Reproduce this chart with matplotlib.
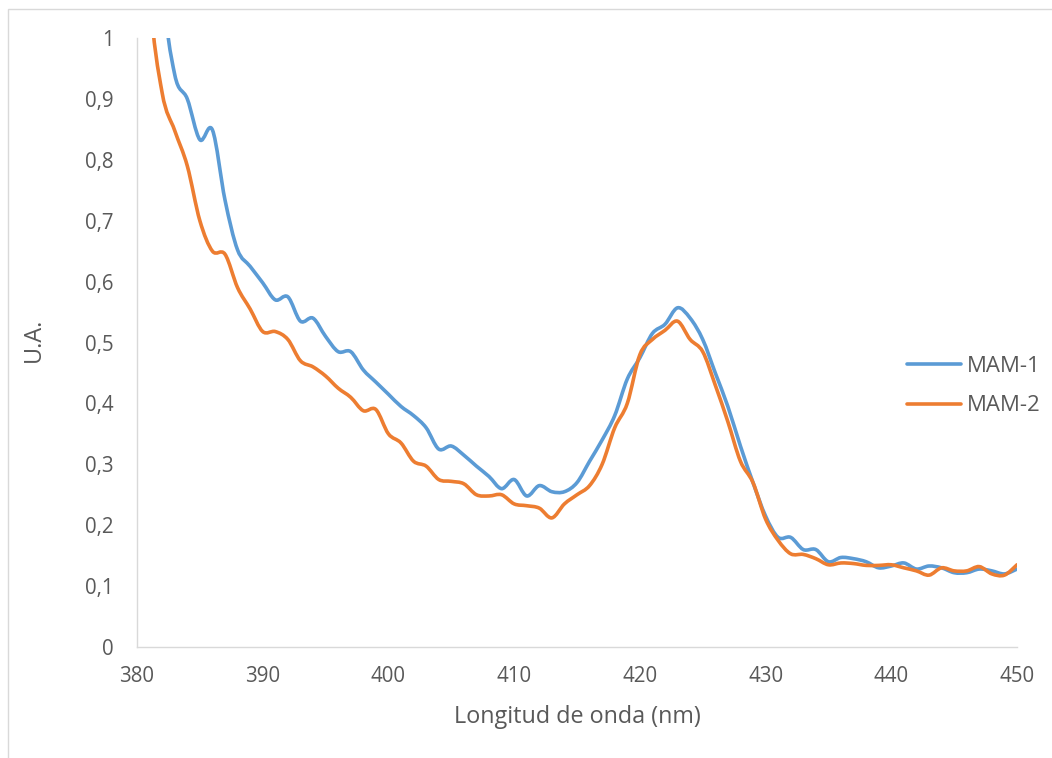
import matplotlib
matplotlib.use("Agg")
import matplotlib.pyplot as plt
from matplotlib.patches import Rectangle, PathPatch
from matplotlib.path import Path
from matplotlib.lines import Line2D
from matplotlib.ticker import FuncFormatter

wavelength = list(range(380, 451))

mam1 = [2.0, 1.5, 1.1, 0.94, 0.90, 0.833, 0.849, 0.734, 0.652, 0.625,
        0.598, 0.570, 0.575, 0.535, 0.540, 0.510, 0.485, 0.485, 0.455, 0.435,
        0.415, 0.395, 0.380, 0.360, 0.325, 0.330, 0.315, 0.297, 0.280, 0.260,
        0.275, 0.248, 0.265, 0.255, 0.255, 0.270, 0.305, 0.340, 0.380, 0.440,
        0.475, 0.515, 0.530, 0.557, 0.540, 0.505, 0.450, 0.395, 0.330, 0.270,
        0.215, 0.180, 0.180, 0.160, 0.160, 0.140, 0.147, 0.145, 0.140, 0.130,
        0.133, 0.138, 0.128, 0.133, 0.130, 0.122, 0.122, 0.128, 0.125, 0.120,
        0.128]

mam2 = [1.5, 1.08, 0.91, 0.848, 0.790, 0.700, 0.650, 0.645, 0.590, 0.555,
        0.518, 0.518, 0.505, 0.470, 0.460, 0.445, 0.425, 0.410, 0.388, 0.390,
        0.350, 0.335, 0.305, 0.297, 0.275, 0.272, 0.268, 0.250, 0.248, 0.250,
        0.235, 0.232, 0.228, 0.212, 0.235, 0.250, 0.265, 0.300, 0.360, 0.400,
        0.480, 0.505, 0.520, 0.535, 0.505, 0.485, 0.430, 0.370, 0.305, 0.270,
        0.210, 0.175, 0.153, 0.152, 0.145, 0.135, 0.138, 0.137, 0.134, 0.134,
        0.135, 0.130, 0.125, 0.118, 0.130, 0.125, 0.125, 0.132, 0.120, 0.118,
        0.135]

series_names = ["MAM-1", "MAM-2"]
colors = ["#5B9BD5", "#ED7D31"]


def smooth_path(xs, ys):
    """Bezier path through the data points (Excel-like smoothed line)."""
    n = len(xs)
    verts = [(xs[0], ys[0])]
    codes = [Path.MOVETO]
    for i in range(n - 1):
        x0, y0 = xs[max(i - 1, 0)], ys[max(i - 1, 0)]
        x1, y1 = xs[i], ys[i]
        x2, y2 = xs[i + 1], ys[i + 1]
        x3, y3 = xs[min(i + 2, n - 1)], ys[min(i + 2, n - 1)]
        c1 = (x1 + (x2 - x0) / 6.0, y1 + (y2 - y0) / 6.0)
        c2 = (x2 - (x3 - x1) / 6.0, y2 - (y3 - y1) / 6.0)
        verts += [c1, c2, (x2, y2)]
        codes += [Path.CURVE4] * 3
    return Path(verts, codes)


W, H = 1052, 758
plt.rcParams['font.family'] = ['Open Sans', 'DejaVu Sans']
fig = plt.figure(figsize=(W / 100, H / 100), dpi=100)

# outer chart border
fig.patches.append(Rectangle((8 / W, -0.1), 1, 1.1 - 9 / H, transform=fig.transFigure,
                             fill=False, edgecolor="#D9D9D9", linewidth=1.0))

ax = fig.add_axes([137 / W, 1 - 647 / H, (1017 - 137) / W, (647 - 38) / H])
handles = []
for name, ys, c in zip(series_names, [mam1, mam2], colors):
    patch = PathPatch(smooth_path(wavelength, ys), fill=False, edgecolor=c,
                      linewidth=2.6, capstyle="round", joinstyle="round")
    ax.add_patch(patch)
    handles.append(Line2D([], [], color=c, linewidth=2.6,
                          solid_capstyle="round", label=name))

ax.set_xlim(380, 450)
ax.set_ylim(0, 1)
ax.set_xticks(range(380, 451, 10))
ax.set_yticks([i / 10 for i in range(11)])
ax.yaxis.set_major_formatter(FuncFormatter(
    lambda v, p: ("%g" % round(v, 1)).replace(".", ",")))
ax.tick_params(length=0, labelsize=14.8, colors="#595959")
ax.tick_params(axis="y", pad=17)
ax.tick_params(axis="x", pad=14)
for s in ["top", "right"]:
    ax.spines[s].set_visible(False)
for s in ["left", "bottom"]:
    ax.spines[s].set_color("#D9D9D9")
    ax.spines[s].set_linewidth(1.0)

fig.text(577 / W, 1 - 717 / H, "Longitud de onda (nm)", fontsize=16.8,
         color="#595959", ha="center", va="center")
fig.text(34 / W, 1 - 340 / H, "U.A.", fontsize=16.8, color="#595959",
         ha="center", va="center", rotation=90)

leg = fig.legend(handles=handles, loc="center left",
                 bbox_to_anchor=(907 / W, 1 - 386 / H), frameon=False,
                 fontsize=16, handlelength=2.45, handletextpad=0.25,
                 labelspacing=0.85, borderpad=0, borderaxespad=0)
for t in leg.get_texts():
    t.set_color("#595959")

fig.savefig("out.png", dpi=100)
